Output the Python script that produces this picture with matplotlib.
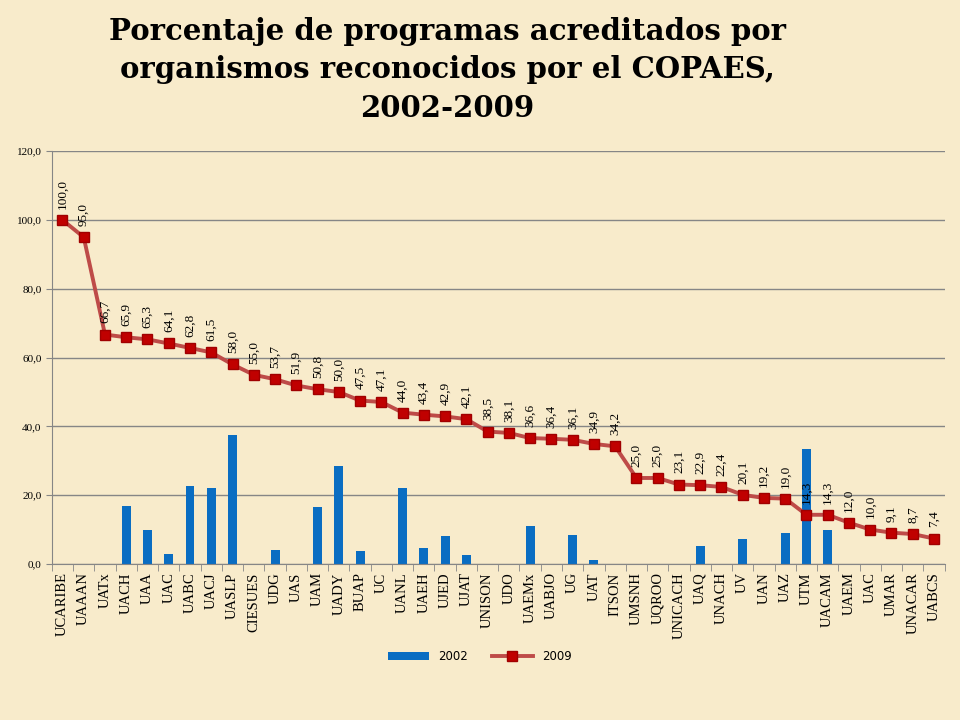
import numpy as np
import matplotlib.pyplot as plt
from matplotlib.ticker import FuncFormatter, FixedLocator

categorias = ["UCARIBE", "UAAAN", "UATx", "UACH", "UAA", "UAC", "UABC", "UACJ",
              "UASLP", "CIESUES", "UDG", "UAS", "UAM", "UADY", "BUAP", "UC",
              "UANL", "UAEH", "UJED", "UJAT", "UNISON", "UDO", "UAEMx", "UABJO",
              "UG", "UAT", "ITSON", "UMSNH", "UQROO", "UNICACH", "UAQ", "UNACH",
              "UV", "UAN", "UAZ", "UTM", "UACAM", "UAEM", "UAC", "UMAR",
              "UNACAR", "UABCS"]

v2002 = [0, 0, 0, 16.9, 10.0, 3.0, 22.7, 22.1, 37.5, 0, 4.2, 0, 16.6, 28.5,
         3.9, 0, 22.1, 4.7, 8.2, 2.7, 0, 0, 10.9, 0, 8.3, 1.3, 0, 0, 0, 0,
         5.3, 0, 7.3, 0, 9.1, 33.4, 10.0, 0, 0, 0, 0, 0]

v2009 = [100.0, 95.0, 66.7, 65.9, 65.3, 64.1, 62.8, 61.5, 58.0, 55.0, 53.7,
         51.9, 50.8, 50.0, 47.5, 47.1, 44.0, 43.4, 42.9, 42.1, 38.5, 38.1,
         36.6, 36.4, 36.1, 34.9, 34.2, 25.0, 25.0, 23.1, 22.9, 22.4, 20.1,
         19.2, 19.0, 14.3, 14.3, 12.0, 10.0, 9.1, 8.7, 7.4]

titulo = "Porcentaje de programas acreditados por\norganismos reconocidos por el COPAES,\n2002-2009"

fondo = "#F8EBCB"
serif = ["Liberation Serif", "DejaVu Serif"]

fig = plt.figure(figsize=(9.6, 7.2), dpi=100, facecolor=fondo)
ax = fig.add_axes([0.054, 0.2167, 0.93, 0.5733])
ax.set_facecolor(fondo)

x = np.arange(len(categorias))
barras = ax.bar(x, v2002, width=0.42, color="#0A6DC2", label="2002", zorder=2)
linea, = ax.plot(x, v2009, color="#BE4B48", lw=2.8, marker="s", ms=7,
                 mfc="#C00000", mec="#A00000", label="2009", zorder=3)

for xi, v in zip(x, v2009):
    ax.annotate(f"{v:.1f}".replace(".", ","), (xi, v), xytext=(0, 8),
                textcoords="offset points", rotation=90, ha="center",
                va="bottom", fontsize=9.5, family=serif, zorder=4)

ax.set_xlim(-0.5, len(categorias) - 0.5)
ax.set_ylim(0, 120)
ax.set_yticks(np.arange(0, 121, 20))
ax.yaxis.set_major_formatter(FuncFormatter(lambda v, p: f"{v:.1f}".replace(".", ",")))
ax.grid(axis="y", color="#868686", lw=1, zorder=0)

ax.set_xticks(x)
ax.set_xticklabels(categorias, rotation=90, family=serif, fontsize=10.5)
ax.xaxis.set_minor_locator(FixedLocator(np.arange(-0.5, len(categorias), 1)))
ax.tick_params(axis="x", which="major", length=0, pad=6)
ax.tick_params(axis="x", which="minor", length=5, color="#868686")
ax.tick_params(axis="y", length=4, color="#868686", labelsize=8)
for t in ax.get_yticklabels():
    t.set_family(serif)

for s in ["top", "right"]:
    ax.spines[s].set_visible(False)
for s in ["left", "bottom"]:
    ax.spines[s].set_color("#868686")

fig.text(0.466, 0.977, titulo, ha="center", va="top", fontsize=21,
         fontweight="bold", family=["DejaVu Serif"], linespacing=1.42)

fig.legend([barras, linea], ["2002", "2009"], loc="center",
           bbox_to_anchor=(0.5, 0.088), ncol=2, frameon=False,
           fontsize=8.5, handlelength=3.5, columnspacing=2)

fig.savefig("out.png", dpi=100, facecolor=fondo)
